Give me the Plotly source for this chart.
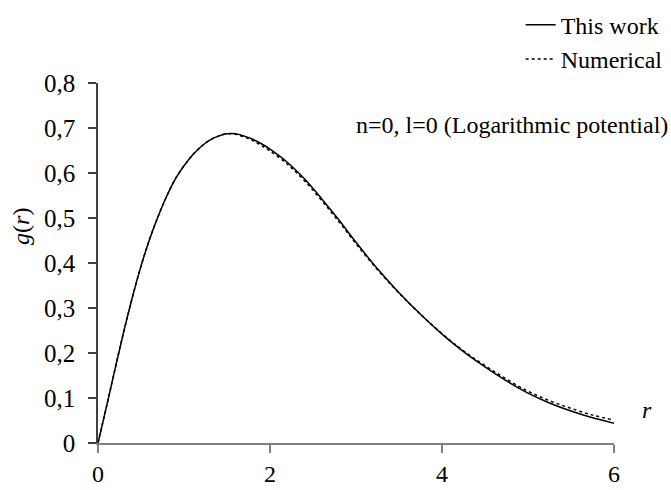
import plotly.graph_objects as go

# Data
r_vals = [0, 0.1, 0.2, 0.3, 0.4, 0.5, 0.6, 0.7, 0.8, 0.9, 1.0, 1.1, 1.2, 1.3, 1.4,
          1.5, 1.6, 1.7, 1.8, 1.9, 2.0, 2.2, 2.4, 2.6, 2.8, 3.0, 3.25, 3.5, 3.75,
          4.0, 4.25, 4.5, 4.75, 5.0, 5.25, 5.5, 5.75, 6.0]
g_this_work = [0.000, 0.082, 0.166, 0.248, 0.324, 0.393, 0.453, 0.504, 0.549, 0.587,
               0.616, 0.640, 0.659, 0.673, 0.682, 0.687, 0.687, 0.682, 0.675, 0.665,
               0.653, 0.624, 0.587, 0.543, 0.496, 0.446, 0.387, 0.334, 0.286,
               0.242, 0.203, 0.169, 0.138, 0.111, 0.089, 0.071, 0.056, 0.044]
g_numerical = [0.000, 0.082, 0.166, 0.248, 0.324, 0.393, 0.453, 0.504, 0.549, 0.587,
               0.616, 0.640, 0.659, 0.673, 0.682, 0.687, 0.686, 0.680, 0.672, 0.661,
               0.649, 0.620, 0.583, 0.539, 0.492, 0.443, 0.385, 0.333, 0.286,
               0.243, 0.205, 0.172, 0.142, 0.115, 0.094, 0.077, 0.062, 0.051]

x_ticks = [0, 2, 4, 6]
y_ticks = [0, 0.1, 0.2, 0.3, 0.4, 0.5, 0.6, 0.7, 0.8]

FONT = "'Liberation Serif', 'Times New Roman', 'DejaVu Serif', serif"

fig = go.Figure()
fig.add_trace(go.Scatter(x=r_vals, y=g_numerical, mode="lines", name="Numerical",
                         line=dict(color="black", width=1.5, dash="dot", shape="spline")))
fig.add_trace(go.Scatter(x=r_vals, y=g_this_work, mode="lines", name="This work",
                         line=dict(color="black", width=1.5, shape="spline")))

fig.update_layout(
    width=671, height=490,
    margin=dict(l=98, r=57, t=83, b=47, autoexpand=False),
    paper_bgcolor="white", plot_bgcolor="white",
    separators=",.",
    font=dict(family=FONT, size=24, color="black"),
    showlegend=True,
    legend=dict(x=1.104, y=1.223, xanchor="right", yanchor="top",
                traceorder="reversed", bgcolor="rgba(0,0,0,0)",
                font=dict(family=FONT, size=24), itemwidth=30,
                tracegroupgap=0),
    xaxis=dict(range=[0, 6], tickvals=x_ticks, showgrid=False, zeroline=False,
               showline=True, linecolor="#808080", linewidth=1.5,
               ticks="outside", ticklen=8, tickcolor="#808080", tickwidth=1.5,
               tickfont=dict(family=FONT, size=24), ticklabelstandoff=0),
    yaxis=dict(range=[0, 0.8], tickvals=y_ticks, showgrid=False, zeroline=False,
               showline=True, linecolor="#404040", linewidth=1.5,
               ticks="outside", ticklen=8, tickcolor="#404040", tickwidth=1.5,
               tickfont=dict(family=FONT, size=25), ticklabelstandoff=8),
    annotations=[
        dict(text="n=0, l=0 (Logarithmic potential)", xref="paper", yref="paper",
             x=1.108, y=0.882, xanchor="right", yanchor="middle", showarrow=False,
             font=dict(family=FONT, size=24)),
        dict(text="<i>g</i>(<i>r</i>)", xref="paper", yref="paper",
             x=-0.148, y=0.602, xanchor="center", yanchor="middle", showarrow=False,
             textangle=-90, font=dict(family=FONT, size=24)),
        dict(text="<i>r</i>", xref="paper", yref="paper",
             x=1.064, y=0.093, xanchor="center", yanchor="middle", showarrow=False,
             font=dict(family=FONT, size=24)),
    ],
)

fig.write_html("out.html")
